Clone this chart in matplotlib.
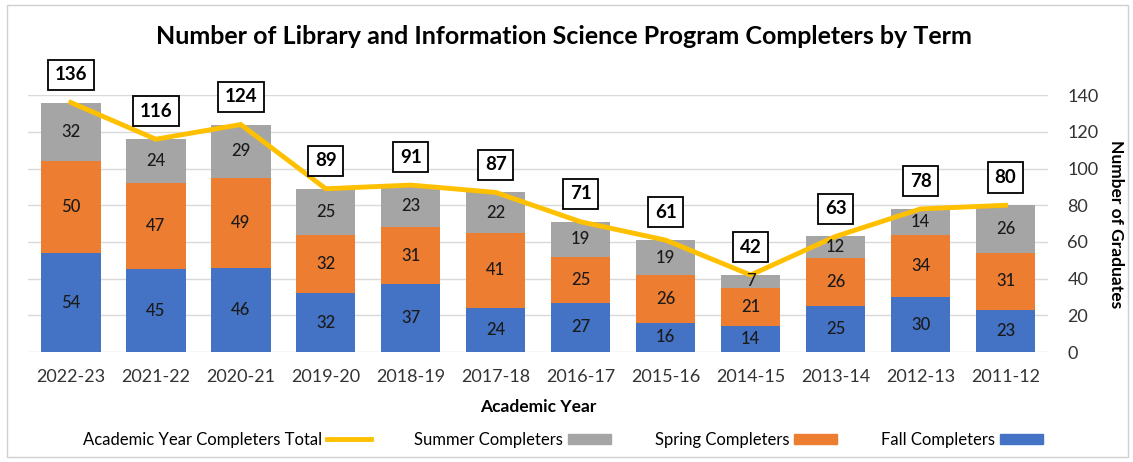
import matplotlib
matplotlib.use("Agg")
import matplotlib.pyplot as plt
from matplotlib.patches import Rectangle
from matplotlib.lines import Line2D
from matplotlib.patches import Patch
import numpy as np

plt.rcParams['font.family'] = ['Lato', 'DejaVu Sans']

years = ["2022-23", "2021-22", "2020-21", "2019-20", "2018-19", "2017-18",
         "2016-17", "2015-16", "2014-15", "2013-14", "2012-13", "2011-12"]
fall = [54, 45, 46, 32, 37, 24, 27, 16, 14, 25, 30, 23]
spring = [50, 47, 49, 32, 31, 41, 25, 26, 21, 26, 34, 31]
summer = [32, 24, 29, 25, 23, 22, 19, 19, 7, 12, 14, 26]
total = [136, 116, 124, 89, 91, 87, 71, 61, 42, 63, 78, 80]

c_fall = "#4472C4"
c_spring = "#ED7D31"
c_summer = "#A5A5A5"
c_total = "#FFC000"

fig = plt.figure(figsize=(11.33, 4.62), dpi=100)
ax = fig.add_axes([0.025, 0.238, 0.9, 0.556])

x = np.arange(len(years))
w = 0.7
ax.bar(x, fall, w, color=c_fall, zorder=2)
ax.bar(x, spring, w, bottom=fall, color=c_spring, zorder=2)
bot3 = np.array(fall) + np.array(spring)
ax.bar(x, summer, w, bottom=bot3, color=c_summer, zorder=2)

lab_kw = dict(ha='center', va='center', fontsize=12, color='#1a1a1a', zorder=4, fontweight='medium')
for i in range(len(x)):
    ax.text(x[i], fall[i] / 2, str(fall[i]), **lab_kw)
    ax.text(x[i], fall[i] + spring[i] / 2, str(spring[i]), **lab_kw)
    ax.text(x[i], bot3[i] + summer[i] / 2, str(summer[i]), **lab_kw)

ax.plot(x, total, color=c_total, lw=3.5, zorder=3, solid_joinstyle='miter')
for i in range(len(x)):
    ax.annotate(str(total[i]), (x[i], total[i]), xytext=(0, 20), textcoords='offset points',
                ha='center', va='center', fontsize=13.5, fontweight='bold', zorder=5,
                bbox=dict(boxstyle='square,pad=0.35', fc='white', ec='black', lw=1.3))

ax.set_xlim(-0.5, len(x) - 0.5)
ax.set_ylim(0, 140)
ax.set_yticks(range(0, 141, 20))
ax.yaxis.tick_right()
ax.yaxis.set_label_position('right')
ax.set_xticks(x)
ax.set_xticklabels(years)
ax.tick_params(axis='both', length=0, labelsize=13, colors='#333333')
ax.tick_params(axis='x', pad=12)
ax.tick_params(axis='y', pad=14)
ax.grid(axis='y', color='#D9D9D9', lw=1, zorder=0)
for s in ax.spines.values():
    s.set_visible(False)
ax.set_ylabel("Number of Graduates", fontsize=12.5, fontweight='bold', rotation=270, va='center')
ax.yaxis.set_label_coords(1.067, 0.5)
ax.set_xlabel("Academic Year", fontsize=12.5, fontweight='bold', labelpad=10)

fig.suptitle("Number of Library and Information Science Program Completers by Term",
             fontsize=18, fontweight='bold', x=0.498, y=0.92, va='center')

handles = [Line2D([0], [0], color=c_total, lw=3.5),
           Patch(color=c_summer), Patch(color=c_spring), Patch(color=c_fall)]
labels = ["Academic Year Completers Total", "Summer Completers", "Spring Completers", "Fall Completers"]
fig.legend(handles, labels, loc='center', bbox_to_anchor=(0.497, 0.048), ncol=4, frameon=False,
           markerfirst=False, fontsize=12, handlelength=2.6, handleheight=0.6, columnspacing=2.6,
           handletextpad=0.3)

fig.patches.append(Rectangle((0.006, 0.01), 0.99, 0.98, transform=fig.transFigure,
                             fill=False, ec='#D0D0D0', lw=1))

fig.savefig("out.png", dpi=100)
